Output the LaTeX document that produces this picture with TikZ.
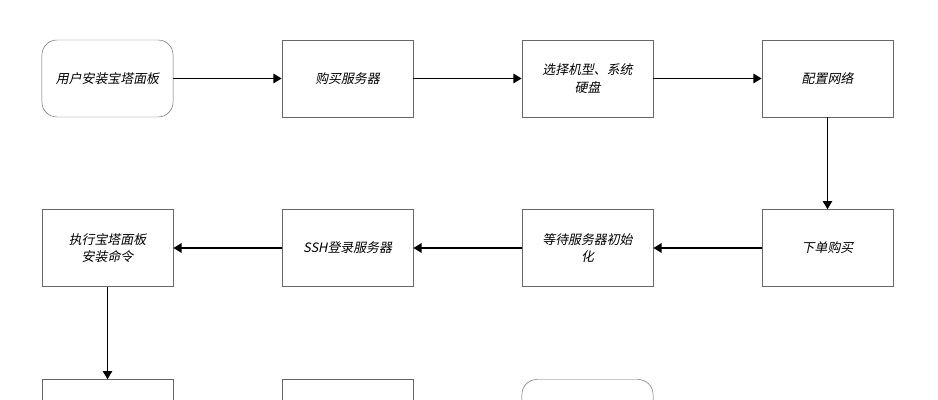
\documentclass[tikz,border=0pt]{standalone}
\usepackage{fontspec}
\newfontfamily\cjk[FakeSlant=0.2]{Noto Sans CJK SC}
\usetikzlibrary{arrows.meta,positioning}

\begin{document}
\begin{tikzpicture}[x=0.03cm, y=-0.03cm,
  box/.style={draw=black!60, minimum width=3.87cm, minimum height=2.31cm, align=center, text width=3.7cm, font=\cjk\fontsize{11}{15}\selectfont},
  term/.style={box, rounded corners=0.45cm},
  arr/.style={-{Triangle[length=7pt,width=8pt]}, line width=1.3pt}
]
\clip (0,0) rectangle (938,400);
\node[term] (install) at (107.5,78.5) {用户安装宝塔面板};
\node[box] (buy) at (347.5,78.5) {购买服务器};
\node[box] (choose) at (587.5,78.5) {选择机型、系统\\硬盘};
\node[box] (net) at (827.5,78.5) {配置网络};

\node[box] (order) at (827.5,248) {下单购买};
\node[box] (wait) at (587.5,248) {等待服务器初始\\化};
\node[box] (ssh) at (347.5,248) {SSH登录服务器};
\node[box] (cmd) at (107.5,248) {执行宝塔面板\\安装命令};

\node[box] (next1) at (107.5,418) {};
\node[box] (next2) at (347.5,418) {};
\node[term] (next3) at (587.5,418) {};

\draw[arr] (install) -- (buy);
\draw[arr] (buy) -- (choose);
\draw[arr] (choose) -- (net);
\draw[arr] (net) -- (order);
\draw[arr] (order) -- (wait);
\draw[arr] (wait) -- (ssh);
\draw[arr] (ssh) -- (cmd);
\draw[arr] (cmd) -- (next1);
\end{tikzpicture}
\end{document}
